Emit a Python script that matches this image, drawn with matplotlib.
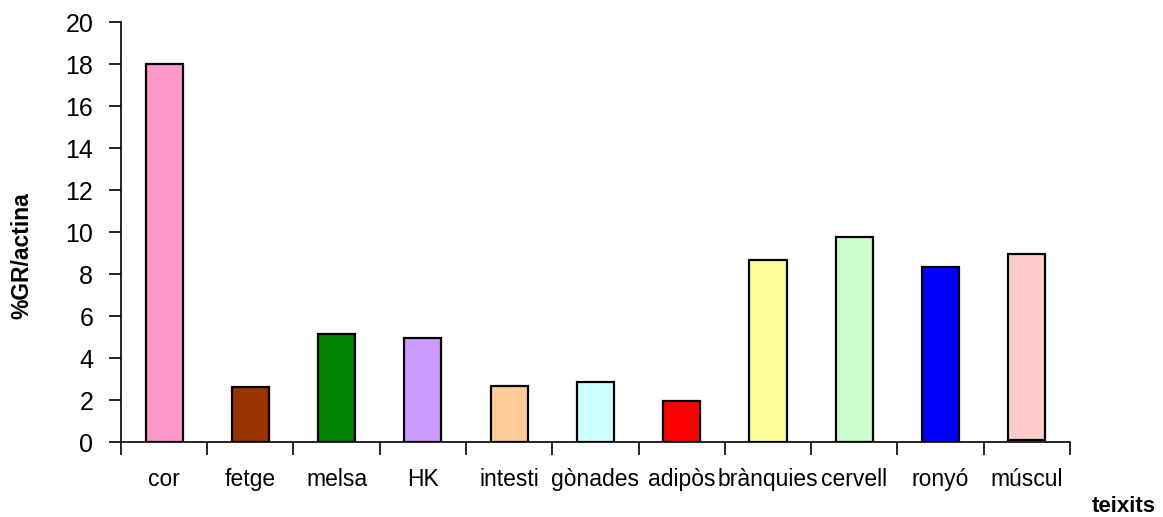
import matplotlib
matplotlib.use("Agg")
import matplotlib.pyplot as plt
import numpy as np

plt.rcParams['font.family'] = ['Liberation Sans', 'DejaVu Sans']

# Relative GR expression per tissue
teixits = ["cor", "fetge", "melsa", "HK", "intesti", "gònades", "adipòs",
           "brànquies", "cervell", "ronyó", "múscul"]
valors = [18.0, 2.62, 5.15, 4.95, 2.68, 2.88, 1.97, 8.67, 9.78, 8.35, 8.95]
bases = [0, 0, 0, 0, 0, 0, 0, 0, 0, 0, 0.08]
colors = ["#FF99CC", "#993300", "#008000", "#CC99FF", "#FFCC99", "#CCFFFF",
          "#FF0000", "#FFFF99", "#CCFFCC", "#0000FF", "#FFCCCC"]
yticks = [0, 2, 4, 6, 8, 10, 12, 14, 16, 18, 20]

fig = plt.figure(figsize=(11.63, 5.17), dpi=100)
ax = fig.add_axes([0.104, 0.145, 0.816, 0.812])

x = np.arange(len(teixits))
alturas = [v - b for v, b in zip(valors, bases)]
ax.bar(x, alturas, bottom=bases, width=0.43, color=colors,
       edgecolor="black", linewidth=1.6, zorder=3)

ax.set_xlim(-0.5, len(teixits) - 0.5)
ax.set_ylim(0, 20)
ax.set_yticks(yticks)
ax.set_yticklabels([str(t) for t in yticks], fontsize=18)

ax.set_xticks(x)
ax.set_xticklabels(teixits, fontsize=16.5)
ax.tick_params(axis="x", which="major", length=0, pad=19)
ax.set_xticks(np.arange(-0.5, len(teixits)), minor=True)
ax.tick_params(axis="x", which="minor", length=9, width=1.2, direction="out")
ax.tick_params(axis="y", length=9, width=1.2, direction="out", pad=11)

for s in ["top", "right"]:
    ax.spines[s].set_visible(False)
for s in ["left", "bottom"]:
    ax.spines[s].set_linewidth(1.2)

fig.text(22 / 1163, 1 - 256 / 517, "%GR/actina", fontsize=16.5,
         fontweight="bold", rotation=90, ha="center", va="center")
fig.text(0.994, 1 - 512 / 517, "teixits", fontsize=16, fontweight="bold",
         ha="right", va="baseline")

fig.savefig("out.png", dpi=100)
